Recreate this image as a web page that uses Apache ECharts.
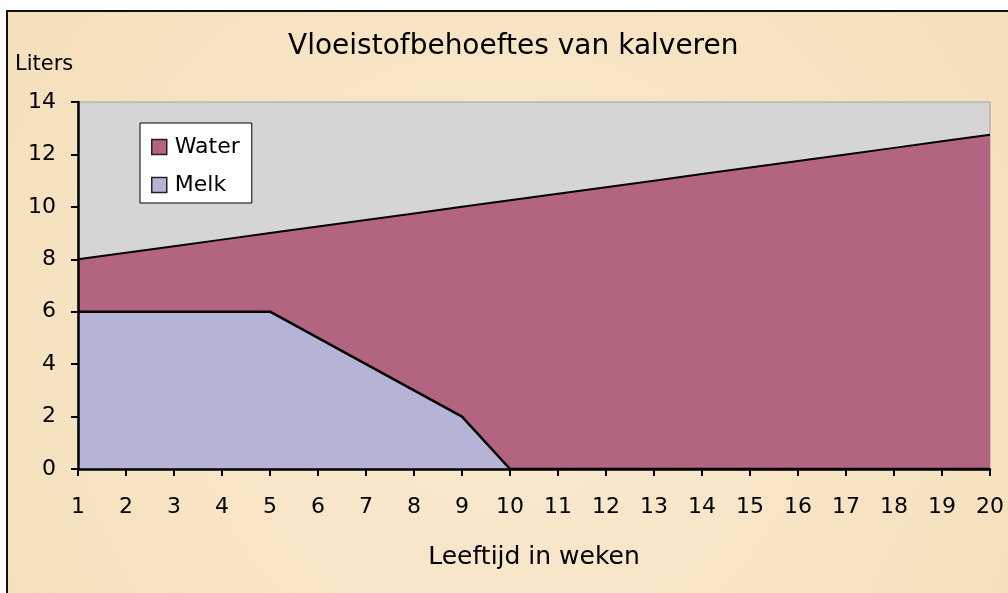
<!DOCTYPE html>
<html>
<head>
<meta charset="utf-8">
<script src="https://cdn.jsdelivr.net/npm/echarts@6/dist/echarts.min.js"></script>
<style>
  html, body { margin: 0; padding: 0; background: #fff; }
  #chart { width: 1008px; height: 593px; }
</style>
</head>
<body>
<div id="chart"></div>
<script>
const weeks = ['1','2','3','4','5','6','7','8','9','10','11','12','13','14','15','16','17','18','19','20'];
const melk  = [6, 6, 6, 6, 6, 5, 4, 3, 2, 0, 0, 0, 0, 0, 0, 0, 0, 0, 0, 0];
const water = [2, 2.25, 2.5, 2.75, 3, 4.25, 5.5, 6.75, 8, 10.25, 10.5, 10.75, 11, 11.25, 11.5, 11.75, 12, 12.25, 12.5, 12.75];
const yTicks = [0, 2, 4, 6, 8, 10, 12, 14];

const font = 'DejaVu Sans';
const waterColor = '#b36480';
const melkColor = '#b6b4d6';

let myChart = echarts.init(document.getElementById('chart'));
let option = {
    backgroundColor: '#ffffff',
    animation: false,
    textStyle: { fontFamily: font, color: '#000' },
    graphic: [
        {
            type: 'rect', z: -10, silent: true,
            shape: { x: 7, y: 11, width: 1100, height: 700 },
            style: {
                fill: {
                    type: 'radial', x: 0.45, y: 0.5, r: 0.8,
                    colorStops: [
                        { offset: 0, color: '#f9ead0' },
                        { offset: 1, color: '#f4e0bc' }
                    ]
                },
                stroke: '#111', lineWidth: 2
            }
        },
        {
            type: 'text', left: 15, top: 54,
            style: { text: 'Liters', font: '21px "DejaVu Sans"', fill: '#000' }
        }
    ],
    title: {
        text: 'Vloeistofbehoeftes van kalveren',
        left: 283,
        top: 28,
        textStyle: { fontFamily: font, fontSize: 28, fontWeight: 'normal', color: '#000' }
    },
    legend: {
        orient: 'vertical',
        left: 140,
        top: 123,
        padding: [13, 12, 7, 11],
        itemGap: 16,
        itemWidth: 15,
        itemHeight: 15,
        icon: 'rect',
        backgroundColor: '#ffffff',
        borderColor: '#000',
        borderWidth: 1,
        textStyle: { fontFamily: font, fontSize: 22, color: '#000', padding: [0, 0, 0, 3] },
        data: [
            { name: 'Water', itemStyle: { color: waterColor, borderColor: '#222', borderWidth: 1.5 } },
            { name: 'Melk', itemStyle: { color: melkColor, borderColor: '#222', borderWidth: 1.5 } }
        ]
    },
    grid: {
        left: 78, right: 18, top: 102, bottom: 124,
        show: true,
        backgroundColor: '#d5d5d5',
        borderColor: '#a0a0a0',
        borderWidth: 1
    },
    xAxis: {
        type: 'category',
        data: weeks,
        boundaryGap: false,
        name: 'Leeftijd in weken',
        nameLocation: 'middle',
        nameGap: 76,
        nameTextStyle: { fontFamily: font, fontSize: 25, color: '#000' },
        axisLine: { lineStyle: { color: '#000', width: 2.5 } },
        axisTick: { length: 7, lineStyle: { color: '#000', width: 2 } },
        axisLabel: { margin: 27, fontSize: 22, color: '#000', fontFamily: font, interval: 0 },
        splitLine: { show: false },
        z: 10
    },
    yAxis: {
        type: 'value',
        min: yTicks[0],
        max: yTicks[yTicks.length - 1],
        interval: 2,
        axisLine: { show: true, lineStyle: { color: '#000', width: 2.5 } },
        axisTick: { show: true, length: 7, lineStyle: { color: '#000', width: 2 } },
        axisLabel: { margin: 22, fontSize: 22, color: '#000', fontFamily: font },
        splitLine: { show: false },
        z: 10
    },
    series: [
        {
            name: 'Melk',
            type: 'line',
            stack: 'totaal',
            data: melk,
            symbol: 'none',
            itemStyle: { color: melkColor },
            lineStyle: { color: '#000', width: 2.5 },
            areaStyle: { color: melkColor, opacity: 1 }
        },
        {
            name: 'Water',
            type: 'line',
            stack: 'totaal',
            data: water,
            symbol: 'none',
            itemStyle: { color: waterColor },
            lineStyle: { color: '#000', width: 2 },
            areaStyle: { color: waterColor, opacity: 1 }
        }
    ]
};
myChart.setOption(option);

window.addEventListener('resize', function () {
    myChart.resize();
});
</script>
</body>
</html>
